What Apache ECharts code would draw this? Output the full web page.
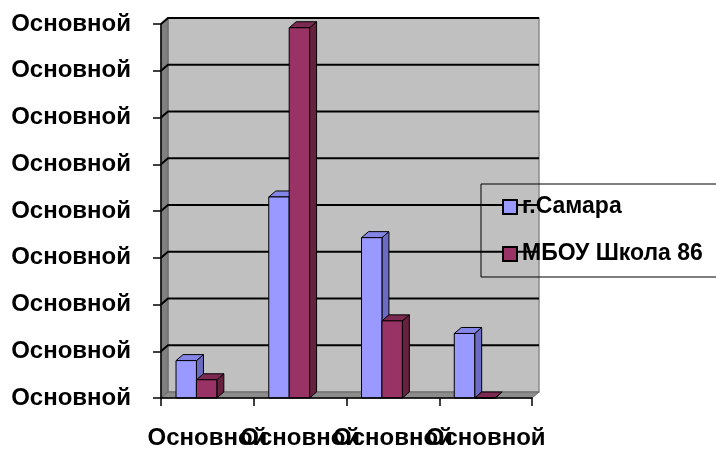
<!DOCTYPE html>
<html><head><meta charset="utf-8">
<script src="https://cdn.jsdelivr.net/npm/echarts@6/dist/echarts.min.js"></script>
<style>html,body{margin:0;padding:0;background:#fff}#c{width:716px;height:450px}</style>
</head><body><div id="c"></div>
<script>
// ---- data ----
const categories = ['Основной', 'Основной', 'Основной', 'Основной'];
const seriesNames = ['г.Самара', 'МБОУ Школа 86'];
const samara = [0.80, 4.30, 3.43, 1.38];
const school86 = [0.39, 7.92, 1.65, 0];
const yTickLabel = 'Основной';
const yMax = 8;

// ---- styling ----
const DX = 7, DY = -6;
const FONT = 'Liberation Sans';
const palettes = [
  { front: '#9999FF', side: '#6B6BC4', top: '#8585E8' },
  { front: '#993366', side: '#66213F', top: '#7D2A53' }
];

function barRenderer(sIdx) {
  const c = palettes[sIdx];
  return function (params, api) {
    const ci = api.value(0), v = api.value(1);
    const base = api.coord([ci, 0]);
    const top = api.coord([ci, v]);
    const band = api.size([1, 0])[0];
    const bw = band * 0.22;
    const x0 = base[0] - band / 2 + band * 0.162 + sIdx * bw;
    const x1 = x0 + bw;
    const yb = base[1], yt = top[1];
    return {
      type: 'group', children: [
        { type: 'polygon', shape: { points: [[x1, yb], [x1 + DX, yb + DY], [x1 + DX, yt + DY], [x1, yt]] }, style: { fill: c.side, stroke: '#000', lineWidth: 1 } },
        { type: 'polygon', shape: { points: [[x0, yt], [x0 + DX, yt + DY], [x1 + DX, yt + DY], [x1, yt]] }, style: { fill: c.top, stroke: '#000', lineWidth: 1 } },
        { type: 'rect', shape: { x: x0, y: yt, width: bw, height: yb - yt }, style: { fill: c.front, stroke: '#000', lineWidth: 1 } }
      ]
    };
  };
}

function wallRenderer(params, api) {
  const cs = params.coordSys;
  const x = cs.x, y = cs.y, w = cs.width, h = cs.height;
  const ch = [
    { type: 'polygon', shape: { points: [[x + DX, y + DY], [x + w + DX, y + DY], [x + w + DX, y + h + DY], [x + DX, y + h + DY]] }, style: { fill: '#C0C0C0', stroke: '#8a8a8a', lineWidth: 1.5 } },
    { type: 'polygon', shape: { points: [[x, y], [x + DX, y + DY], [x + DX, y + h + DY], [x, y + h]] }, style: { fill: '#808080', stroke: '#666', lineWidth: 1 } },
    { type: 'polygon', shape: { points: [[x, y + h], [x + DX, y + h + DY], [x + w + DX, y + h + DY], [x + w, y + h]] }, style: { fill: '#8c8c8c', stroke: '#666', lineWidth: 1 } }
  ];
  for (let t = 1; t <= yMax; t++) {
    const yy = api.coord([0, t])[1];
    ch.push({ type: 'polyline', shape: { points: [[x, yy], [x + DX, yy + DY], [x + w + DX, yy + DY]] }, style: { stroke: '#000', lineWidth: 2, fill: null } });
  }
  return { type: 'group', children: ch };
}

const chart = echarts.init(document.getElementById('c'), null, { renderer: 'canvas' });
chart.setOption({
  animation: false,
  backgroundColor: '#fff',
  grid: { left: 161, right: 184, top: 24, bottom: 48, containLabel: false },
  xAxis: {
    type: 'category', data: categories, boundaryGap: true,
    axisLine: { lineStyle: { color: '#000', width: 1.5 } },
    axisTick: { show: true, length: 8, lineStyle: { color: '#000', width: 1.5 } },
    axisLabel: { interval: 0, hideOverlap: false, margin: 28, color: '#000', fontFamily: FONT, fontWeight: 'bold', fontSize: 24 },
    splitLine: { show: false }, z: 5
  },
  yAxis: {
    type: 'value', min: 0, max: yMax, interval: 1,
    axisLine: { show: true, lineStyle: { color: '#000', width: 1.5 } },
    axisTick: { show: true, length: 8, lineStyle: { color: '#000', width: 1.5 } },
    axisLabel: { margin: 30, color: '#000', fontFamily: FONT, fontWeight: 'bold', fontSize: 24, formatter: () => yTickLabel },
    splitLine: { show: false }, z: 5
  },
  legend: {
    orient: 'vertical', left: 481, top: 184,
    padding: [10, 300, 10, 21],
    borderColor: '#000', borderWidth: 1, backgroundColor: 'transparent',
    icon: 'rect', itemWidth: 14, itemHeight: 14, itemGap: 21,
    itemStyle: { borderColor: '#000', borderWidth: 2 },
    textStyle: { color: '#000', fontFamily: FONT, fontWeight: 'bold', fontSize: 23, lineHeight: 26, padding: [0, 0, 0, 0] },
    data: seriesNames
  },
  series: [
    { type: 'custom', name: 'wall', renderItem: wallRenderer, data: [[0, 0]], clip: false, silent: true, z: 1, legendHoverLink: false },
    { type: 'custom', name: seriesNames[0], renderItem: barRenderer(0), data: samara.map((v, i) => [i, v]), encode: { x: 0, y: 1 }, itemStyle: { color: palettes[0].front }, clip: false, z: 2 },
    { type: 'custom', name: seriesNames[1], renderItem: barRenderer(1), data: school86.map((v, i) => [i, v]), encode: { x: 0, y: 1 }, itemStyle: { color: palettes[1].front }, clip: false, z: 3 }
  ]
});
</script>
</body></html>
